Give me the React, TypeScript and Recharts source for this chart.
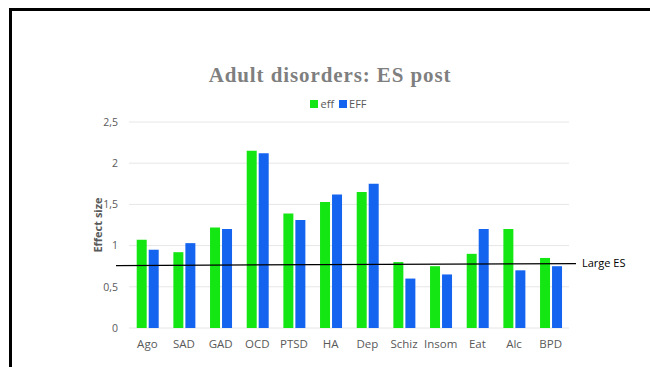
import React from 'react';
import { BarChart, Bar, XAxis, YAxis, CartesianGrid, ReferenceLine, Legend } from 'recharts';

// Disorder categories along the x axis
const categories = ['Ago', 'SAD', 'GAD', 'OCD', 'PTSD', 'HA', 'Dep', 'Schiz', 'Insom', 'Eat', 'Alc', 'BPD'];
// Post-treatment effect sizes per series
const effValues = [1.07, 0.92, 1.22, 2.15, 1.39, 1.53, 1.65, 0.8, 0.75, 0.9, 1.2, 0.85];
const EFFValues = [0.95, 1.03, 1.2, 2.12, 1.31, 1.62, 1.75, 0.6, 0.65, 1.2, 0.7, 0.75];
// Value axis ticks
const yTicks = [0, 0.5, 1, 1.5, 2, 2.5];
// Category boundary positions (used for the tick marks between groups)
const edgeTicks = [0, 1, 2, 3, 4, 5, 6, 7, 8, 9, 10, 11, 12];
// Threshold for a large effect size
const largeES = 0.77;

const data = categories.map((name, i) => ({ name, eff: effValues[i], EFF: EFFValues[i] }));

const GREEN = '#14e614';
const BLUE = '#1464f0';
const FONT = '"Open Sans", "Liberation Sans", sans-serif';

const LargeESLine = (props: any) => {
  const { x1, y1, x2, y2 } = props;
  return (
    <g>
      <line x1={x1 - 13} y1={y1 + 1} x2={x2 + 7} y2={y2 - 1} stroke="#000" strokeWidth={1.2} />
      <text x={x2 + 13} y={y2 + 2} fontSize={11} fontFamily={FONT} fill="#000">
        Large ES
      </text>
    </g>
  );
};

const LegendContent = () => (
  <div style={{ display: 'flex', justifyContent: 'center', alignItems: 'center', fontFamily: FONT, fontSize: 11, color: '#595959' }}>
    {[
      { label: 'eff', color: GREEN },
      { label: 'EFF', color: BLUE },
    ].map((item) => (
      <span key={item.label} style={{ display: 'flex', alignItems: 'center', marginRight: 5 }}>
        <span style={{ display: 'inline-block', width: 8, height: 8, background: item.color, marginRight: 2 }} />
        {item.label}
      </span>
    ))}
  </div>
);

export default function App() {
  return (
    <div style={{ position: 'absolute', left: 0, top: 0, width: 650, height: 367, background: '#fff', overflow: 'hidden' }}>
      <div style={{ position: 'absolute', left: 9, top: 8, right: 0, bottom: 0, borderTop: '3px solid #000', borderLeft: '3px solid #000' }} />
      <div
        style={{
          position: 'absolute',
          left: 0,
          width: 660,
          top: 63,
          textAlign: 'center',
          fontFamily: '"Liberation Serif", "Times New Roman", serif',
          fontWeight: 'bold',
          fontSize: 21,
          letterSpacing: 0.9,
          color: '#7f7f7f',
        }}
      >
        Adult disorders: ES post
      </div>
      <div style={{ position: 'absolute', left: 0, top: 0 }}>
        <BarChart
          width={650}
          height={367}
          data={data}
          margin={{ top: 108, right: 81, left: 0, bottom: 15 }}
          barCategoryGap="21%"
          barGap={2}
        >
          <Legend
            verticalAlign="top"
            content={<LegendContent />}
            wrapperStyle={{ position: 'absolute', top: 96, left: 16, width: 650, height: 14 }}
          />
          <CartesianGrid vertical={false} stroke="#e6e6e6" xAxisId="cat" />
          <XAxis
            xAxisId="edges"
            type="number"
            domain={[0, 12]}
            ticks={edgeTicks}
            height={0}
            tick={() => <g />}
            tickSize={5}
            tickLine={{ stroke: '#c8c8c8' }}
            axisLine={{ stroke: '#c8c8c8', strokeWidth: 1.5 }}
          />
          <XAxis
            xAxisId="cat"
            dataKey="name"
            height={24}
            axisLine={false}
            tickLine={false}
            tickSize={0}
            tickMargin={12}
            interval={0}
            tick={{ fontSize: 11.5, fontFamily: FONT, fill: '#595959' }}
          />
          <YAxis
            width={129}
            domain={[0, 2.5]}
            ticks={yTicks}
            axisLine={false}
            tickLine={false}
            tickSize={0}
            tickMargin={11}
            tickFormatter={(v: number) => String(v).replace('.', ',')}
            tick={{ fontSize: 10.5, fontFamily: FONT, fill: '#595959' }}
            label={{
              content: ({ viewBox }: any) => {
                const cx = viewBox.x + 97;
                const cy = viewBox.y + viewBox.height / 2;
                return (
                  <text
                    x={cx}
                    y={cy}
                    transform={`rotate(-90 ${cx} ${cy})`}
                    textAnchor="middle"
                    dominantBaseline="central"
                    fontSize={11}
                    fontWeight="bold"
                    fontFamily={FONT}
                    fill="#595959"
                  >
                    Effect size
                  </text>
                );
              },
            }}
          />
          <Bar xAxisId="cat" dataKey="eff" fill={GREEN} isAnimationActive={false} />
          <Bar xAxisId="cat" dataKey="EFF" fill={BLUE} isAnimationActive={false} />
          <ReferenceLine xAxisId="cat" y={largeES} ifOverflow="visible" shape={<LargeESLine />} />
        </BarChart>
      </div>
    </div>
  );
}
